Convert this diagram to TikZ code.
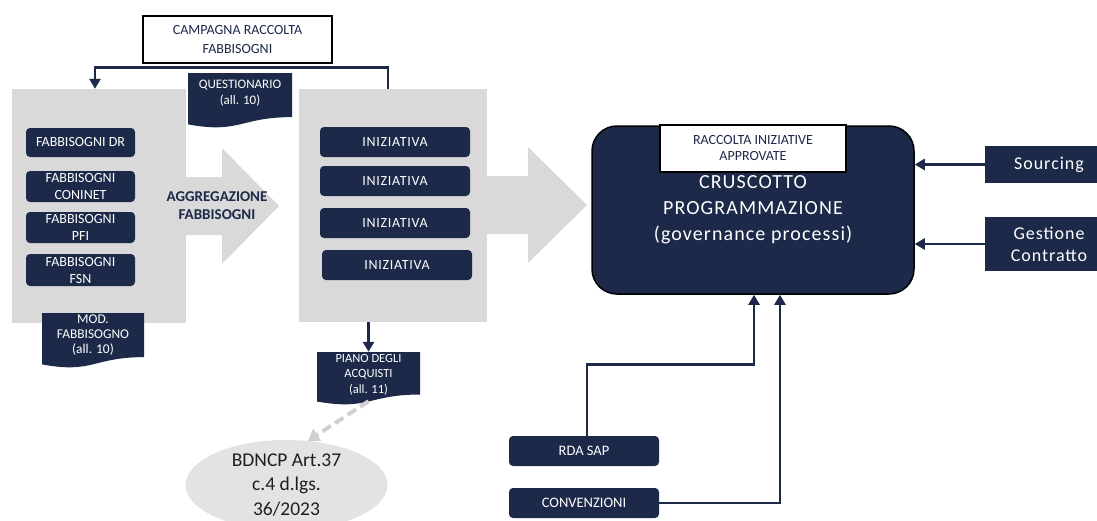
\documentclass[tikz,border=0pt]{standalone}
\usepackage{fontspec}
\setmainfont{Carlito}
\usetikzlibrary{arrows.meta,shapes.geometric}
\definecolor{navy}{HTML}{1C2948}
\definecolor{boxgray}{HTML}{D9D9D9}
\definecolor{ellgray}{HTML}{E3E3E3}
\definecolor{dashgray}{HTML}{D0D0D0}
\newcommand{\docshape}[5]{%
  \fill[navy] (#2,#3) -- ({#2+#4},#3) -- ({#2+#4},{#3+0.802*#5}) .. controls ({#2+0.5*#4},{#3+0.802*#5}) and ({#2+0.5*#4},{#3+1.1075*#5}) .. (#2,{#3+0.934*#5}) -- cycle;
  \node[inner sep=0,minimum width=#4pt,minimum height=#5pt] (#1) at ({#2+0.5*#4},{#3+0.5*#5}) {};
}
\begin{document}
\begin{tikzpicture}[x=1pt,y=-1pt,
  graybox/.style={fill=boxgray, inner sep=0},
  navybox/.style={fill=navy, text=white, rounded corners=4pt, inner sep=0, align=center},
  smallbox/.style={navybox, minimum width=109pt, font={\fontsize{14}{17}\selectfont}},
  inibox/.style={navybox, minimum width=150pt, minimum height=30pt, font={\fontsize{14}{17}\selectfont\addfontfeature{LetterSpace=5}}},
  botbox/.style={navybox, minimum width=150pt, minimum height=30pt, font={\fontsize{14.5}{17}\selectfont}},
  sidebox/.style={fill=navy, text=white, inner sep=0, align=center, minimum width=128pt, font={\fontsize{18}{22}\selectfont\addfontfeature{LetterSpace=5.5}}},
  doctext/.style={text=white, align=center, inner sep=0},
  conn/.style={navy, line width=2.8pt, -{Triangle[length=10pt,width=11pt]}},
  bigarrow/.style={fill=boxgray}
]
\useasboundingbox (0,0) rectangle (1097,520);
\fill[white] (0,0) rectangle (1097,520);

% gray containers
\node[graybox, minimum width=174pt, minimum height=234pt] (lbox) at (99,206) {};
\node[graybox, minimum width=188pt, minimum height=233pt] (mbox) at (393,205.5) {};

% big block arrows
\fill[bigarrow] (180,177) -- (222,177) -- (222,148) -- (279,206) -- (222,264) -- (222,235) -- (180,235) -- cycle;
\fill[bigarrow] (480,176) -- (528,176) -- (528,147) -- (587,205) -- (528,263) -- (528,234) -- (480,234) -- cycle;
\node[text=navy, align=center, inner sep=0, font={\fontsize{15}{18}\selectfont\bfseries}] (aggr) at (217,206) {AGGREGAZIONE\\FABBISOGNI};

% campaign box
\node[draw=black, line width=1.5pt, fill=white, minimum width=189pt, minimum height=47pt, inner sep=0, align=center, text=navy, font={\fontsize{14}{19}\selectfont}] (camp) at (237.5,39.5) {CAMPAGNA RACCOLTA\\FABBISOGNI};

% top connector
\draw[conn] ([xshift=-5pt]mbox.north) -- ++(0,-21) -| ([xshift=-4pt]lbox.north);

% questionario document
\docshape{quest}{188}{73}{104}{55}
\node[doctext, font={\fontsize{13}{16.5}\selectfont}] (questtxt) at (240,93) {QUESTIONARIO\\(all. 10)};

% left small boxes
\node[smallbox, minimum height=29pt] (dr) at (80.5,142.5) {FABBISOGNI DR};
\node[smallbox, minimum height=31pt] (coninet) at (80.5,186.5) {FABBISOGNI\\CONINET};
\node[smallbox, minimum height=31pt] (pfi) at (80.5,227.5) {FABBISOGNI\\PFI};
\node[smallbox, minimum height=32pt] (fsn) at (80.5,270) {FABBISOGNI\\FSN};

% mod fabbisogno document
\docshape{mod}{42}{313}{102}{55}
\node[doctext, font={\fontsize{13.4}{15}\selectfont}] (modtxt) at (93,335) {MOD.\\FABBISOGNO\\(all. 10)};

% iniziativa boxes
\node[inibox] (ini1) at (395,142) {INIZIATIVA};
\node[inibox] (ini2) at (395,181) {INIZIATIVA};
\node[inibox] (ini3) at (395,223) {INIZIATIVA};
\node[inibox] (ini4) at (397,265) {INIZIATIVA};

% piano degli acquisti
\docshape{piano}{317}{352}{103}{53}
\node[doctext, font={\fontsize{12.5}{15.5}\selectfont}] (pianotxt) at (368.5,374.5) {PIANO DEGLI\\ACQUISTI\\(all. 11)};
\draw[conn] (piano.north |- mbox.south) -- (piano.north);

% BDNCP ellipse
\node[ellipse, fill=ellgray, minimum width=202pt, minimum height=90pt, inner sep=0, align=center, text={black!88}, font={\fontsize{19.5}{24.5}\selectfont}] (bdn) at (286.5,485) {BDNCP Art.37\\c.4 d.lgs.\\36/2023};
\draw[dashgray, line width=4pt, dash pattern=on 10pt off 5pt, -{Triangle[length=11pt,width=14pt]}] ([yshift=4pt]piano.south) -- (bdn.64);

% cruscotto
\node[draw=black, line width=1.5pt, fill=navy, rounded corners=25pt, minimum width=322pt, minimum height=168pt, inner sep=0, align=center, text=white, font={\fontsize{20}{26}\selectfont\addfontfeature{LetterSpace=5.5}}] (crus) at (753,210) {CRUSCOTTO\\PROGRAMMAZIONE\\(governance processi)};
\node[draw=black, line width=1.5pt, fill=white, minimum width=186pt, minimum height=47pt, inner sep=0, align=center, text=navy, font={\fontsize{14}{16}\selectfont}] (racc) at (753,148.5) {RACCOLTA INIZIATIVE\\APPROVATE};

% side boxes
\node[sidebox, minimum height=37pt] (src) at (1049,164.5) {Sourcing};
\node[sidebox, minimum height=54pt] (gest) at (1049,244) {Gestione\\Contratto};
\draw[conn] (src.west) -- (src.west -| crus.east);
\draw[conn] (gest.west) -- (gest.west -| crus.east);

% bottom boxes
\node[botbox] (rda) at (584,451) {RDA SAP};
\node[botbox] (conv) at (584,503) {CONVENZIONI};
\draw[conn] ([xshift=3pt]rda.north) -- ++(0,-71) -| ([xshift=1pt]crus.south);
\draw[conn] (conv.east) -| ([xshift=27pt]crus.south);
\end{tikzpicture}
\end{document}
